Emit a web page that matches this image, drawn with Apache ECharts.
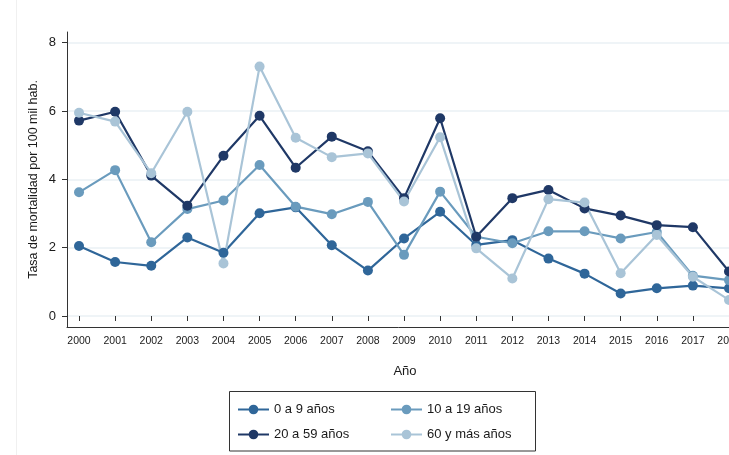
<!DOCTYPE html>
<html>
<head>
<meta charset="utf-8">
<script src="https://cdn.jsdelivr.net/npm/echarts@6/dist/echarts.min.js"></script>
<style>
  html,body{margin:0;padding:0;background:#fff;}
  #chart{width:729px;height:455px;}
</style>
</head>
<body>
<div id="chart"></div>
<script>
/* tasas de mortalidad por grupo de edad, 2000-2018 */
const YEARS = [2000,2001,2002,2003,2004,2005,2006,2007,2008,2009,2010,2011,2012,2013,2014,2015,2016,2017,2018];
const Y_TICKS = [0,2,4,6,8];

const G0_9   = [2.05,1.58,1.47,2.30,1.85,3.01,3.18,2.07,1.33,2.27,3.05,2.08,2.22,1.68,1.24,0.66,0.81,0.89,0.81];
const G10_19 = [3.62,4.27,2.16,3.13,3.38,4.42,3.20,2.98,3.34,1.79,3.64,2.32,2.13,2.48,2.48,2.27,2.46,1.18,1.05];
const G20_59 = [5.72,5.98,4.11,3.23,4.69,5.86,4.34,5.25,4.82,3.45,5.79,2.32,3.45,3.69,3.15,2.94,2.66,2.60,1.30];
const G60    = [5.95,5.69,4.18,5.98,1.54,7.30,5.22,4.65,4.76,3.35,5.23,1.98,1.10,3.42,3.32,1.25,2.37,1.15,0.47];

const SERIES = [
  {name:'0 a 9 años',    data:G0_9,   color:'#2f6699'},
  {name:'10 a 19 años',  data:G10_19, color:'#6a9bbd'},
  {name:'20 a 59 años',  data:G20_59, color:'#1f3866'},
  {name:'60 y más años', data:G60,    color:'#a9c4d7'}
];

const FONT = '"Liberation Sans", Arial, sans-serif';
const TXT = '#1a1a1a';

const chart = echarts.init(document.getElementById('chart'), null, {renderer:'canvas'});

// posiciones de la leyenda (dos columnas)
const LEG_POS = [[237,403],[390,403],[237,428],[390,428]];

chart.setOption({
  animation:false,
  textStyle:{fontFamily:FONT},
  grid:[
    // rejilla de datos
    {left:67, right:0, top:42.7, bottom:139, outerBoundsMode:'none'},
    // rejilla solo para las lineas de eje (un poco mas amplia, estilo Stata)
    {left:67, right:-14, top:32, bottom:128, outerBoundsMode:'none'}
  ],
  xAxis:[
    {gridIndex:0, type:'value', min:1999.667, max:2018,
     axisLine:{show:false}, splitLine:{show:false},
     axisTick:{show:true, customValues:YEARS, length:5, lineStyle:{color:'#333'}},
     axisLabel:{show:true, customValues:YEARS, color:TXT, fontSize:10.5, margin:9, formatter:v=>String(v)},
     offset:11},
    {gridIndex:1, type:'value', min:0, max:1,
     axisLine:{show:true, lineStyle:{color:'#333', width:1}},
     axisTick:{show:false}, axisLabel:{show:false}, splitLine:{show:false},
     name:'Año', nameLocation:'middle', nameGap:38,
     nameTextStyle:{color:TXT, fontSize:13, fontFamily:FONT}}
  ],
  yAxis:[
    {gridIndex:0, type:'value', min:0, max:8, interval:2,
     axisLine:{show:false},
     axisTick:{show:true, length:5, lineStyle:{color:'#333'}},
     axisLabel:{color:TXT, fontSize:13, margin:11},
     splitLine:{show:true, lineStyle:{color:'#eaf1f5', width:1.5}}},
    {gridIndex:1, type:'value', min:0, max:1,
     axisLine:{show:true, lineStyle:{color:'#333', width:1}},
     axisTick:{show:false}, axisLabel:{show:false}, splitLine:{show:false},
     name:'Tasa de mortalidad por 100 mil hab.', nameLocation:'middle', nameGap:27,
     nameTextStyle:{color:TXT, fontSize:12.5, fontFamily:FONT}}
  ],
  legend: SERIES.map((s,i)=>({
    data:[s.name], left:LEG_POS[i][0], top:LEG_POS[i][1],
    itemWidth:31, itemHeight:12, itemGap:0, padding:0,
    textStyle:{color:TXT, fontSize:13, fontFamily:FONT}
  })),
  graphic:[
    {type:'rect', shape:{x:229.5, y:391.5, width:306, height:59.5},
     style:{fill:'#fff', stroke:'#333', lineWidth:1}, z:-1},
    {type:'line', shape:{x1:16.5, y1:0, x2:16.5, y2:455},
     style:{stroke:'#f0f0f0', lineWidth:1}, z:-1}
  ],
  series: SERIES.map(s=>({
    name:s.name, type:'line', xAxisIndex:0, yAxisIndex:0,
    data: YEARS.map((y,i)=>[y, s.data[i]]),
    symbol:'circle', symbolSize:10, showSymbol:true,
    lineStyle:{color:s.color, width:2.2}, itemStyle:{color:s.color},
    clip:false
  }))
});
</script>
</body>
</html>
